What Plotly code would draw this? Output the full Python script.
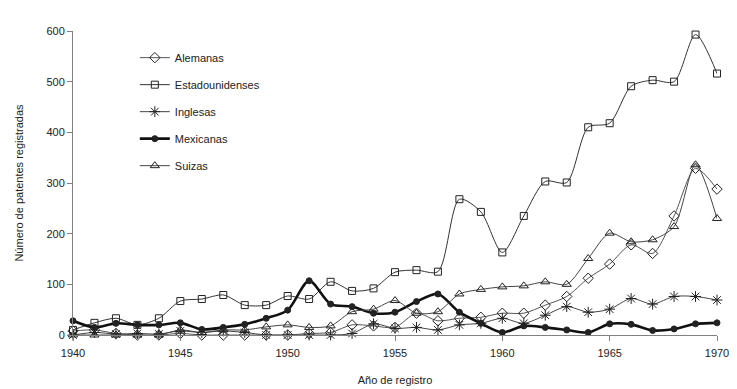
import plotly.graph_objects as go

years = list(range(1940, 1971))

alemanas = [8, 10, 3, 0, 0, 3, 0, 0, 0, 0, 0, 3, 5, 20, 18, 15, 43, 28, 33, 35,
            43, 43, 59, 76, 112, 140, 178, 161, 235, 329, 288]
estadounidenses = [10, 24, 33, 20, 33, 67, 71, 79, 59, 59, 77, 71, 105, 87, 92, 124,
                   128, 125, 268, 243, 163, 235, 303, 301, 410, 418, 491, 503, 500, 593, 516]
inglesas = [0, 5, 2, 3, 2, 8, 5, 8, 5, 0, 0, 0, 0, 3, 22, 13, 15, 10, 20, 23,
            33, 23, 39, 56, 45, 51, 72, 61, 76, 76, 69]
mexicanas = [28, 15, 23, 20, 20, 24, 11, 15, 21, 33, 49, 107, 61, 56, 43, 45, 66, 81,
             45, 23, 5, 18, 15, 10, 5, 22, 21, 9, 12, 22, 24]
suizas = [0, 0, 0, 0, 0, 10, 5, 10, 10, 16, 20, 15, 18, 46, 51, 68, 43, 46, 81, 90,
          95, 97, 105, 100, 151, 201, 184, 188, 214, 336, 230]

x_ticks = [1940, 1945, 1950, 1955, 1960, 1965, 1970]
y_ticks = [0, 100, 200, 300, 400, 500, 600]

FONT = "Liberation Sans, Arial, sans-serif"

series = [
    ("Alemanas", alemanas, "diamond-open", 8, "#555555", 1),
    ("Estadounidenses", estadounidenses, "square-open", 7, "#333333", 1),
    ("Inglesas", inglesas, "asterisk-open", 9, "#444444", 1),
    ("Mexicanas", mexicanas, "circle", 6, "#111111", 2.6),
    ("Suizas", suizas, "triangle-up-open", 8, "#444444", 1),
]

fig = go.Figure()
for i, (name, vals, sym, size, col, w) in enumerate(series):
    fig.add_trace(go.Scatter(
        x=years, y=vals, name=name, mode="lines+markers",
        line=dict(color=col, width=w, shape="spline", smoothing=0.8),
        marker=dict(symbol=sym, size=size, color="#222222",
                    line=dict(color="#222222", width=1)),
        cliponaxis=False, legendgroup=f"g{i}",
    ))

fig.update_layout(
    width=737, height=389,
    margin=dict(l=65, r=28, t=23, b=62),
    plot_bgcolor="white", paper_bgcolor="white",
    font=dict(family=FONT, size=11, color="#222222"),
    showlegend=True,
    legend=dict(x=0.096, y=0.96, xanchor="left", yanchor="top",
                bgcolor="rgba(0,0,0,0)", font=dict(size=11),
                traceorder="grouped", tracegroupgap=8, itemwidth=30),
    xaxis=dict(range=[1940, 1970], tickvals=x_ticks, ticktext=[str(t) for t in x_ticks],
               showgrid=False, zeroline=False, showline=True, linecolor="#808080",
               linewidth=1, ticks="outside", ticklen=5, tickcolor="#808080",
               ticklabelstandoff=3, automargin=False,
               title=dict(text="Año de registro", standoff=18, font=dict(size=11))),
    yaxis=dict(range=[0, 600], tickvals=y_ticks, showgrid=False, zeroline=False,
               showline=True, linecolor="#808080", linewidth=1, ticks="outside",
               ticklen=5, tickcolor="#808080", automargin=False,
               title=dict(text="Número de patentes registradas", standoff=20, font=dict(size=11))),
)

fig.write_html("out.html")
